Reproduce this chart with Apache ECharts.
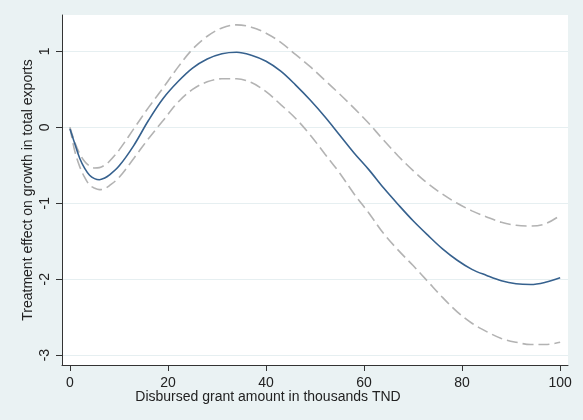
<!DOCTYPE html>
<html>
<head>
<meta charset="utf-8">
<script src="https://cdn.jsdelivr.net/npm/echarts@6/dist/echarts.min.js"></script>
<style>
    html, body { margin: 0; padding: 0; background: #eaf2f3; }
    #main { width: 583px; height: 420px; }
</style>
</head>
<body>
<div id="main"></div>
<script type="text/javascript">
    // grant amount (thousands TND) at which the curves are read
    var grant = [0, 1, 2, 3, 4, 5, 6, 7, 8, 10, 13, 16, 19, 22, 25, 28, 31, 34, 37, 40, 43, 46, 49, 52, 55, 58, 61, 64, 67, 70, 73, 76, 79, 82, 85, 88, 91, 94, 97, 100];
    // point estimate of the treatment effect
    var effect = [-0.02, -0.22, -0.41, -0.54, -0.63, -0.675, -0.69, -0.67, -0.63, -0.51, -0.24, 0.09, 0.38, 0.6, 0.78, 0.9, 0.97, 0.99, 0.95, 0.87, 0.74, 0.56, 0.36, 0.14, -0.1, -0.34, -0.56, -0.8, -1.02, -1.23, -1.42, -1.6, -1.75, -1.87, -1.95, -2.02, -2.06, -2.07, -2.04, -1.98];
    // confidence band
    var upper = [0.0, -0.2, -0.35, -0.45, -0.51, -0.535, -0.53, -0.5, -0.45, -0.3, -0.02, 0.26, 0.52, 0.79, 1.03, 1.2, 1.31, 1.35, 1.32, 1.24, 1.12, 0.96, 0.8, 0.62, 0.44, 0.25, 0.05, -0.17, -0.38, -0.57, -0.74, -0.88, -1.0, -1.1, -1.18, -1.25, -1.29, -1.3, -1.27, -1.16];
    var lower = [0.0, -0.32, -0.52, -0.66, -0.76, -0.8, -0.82, -0.81, -0.77, -0.66, -0.41, -0.15, 0.09, 0.33, 0.5, 0.6, 0.64, 0.64, 0.59, 0.47, 0.3, 0.12, -0.1, -0.35, -0.6, -0.88, -1.13, -1.4, -1.62, -1.82, -2.03, -2.24, -2.43, -2.58, -2.69, -2.78, -2.83, -2.86, -2.86, -2.83];

    var xTicks = [0, 20, 40, 60, 80, 100];
    var yTicks = [-3, -2, -1, 0, 1];

    function pairs(xs, ys) {
        var out = [];
        for (var i = 0; i < xs.length; i++) {
            out.push([xs[i], ys[i]]);
        }
        return out;
    }

    var font = 'Liberation Sans, Arial, sans-serif';
    var myChart = echarts.init(document.getElementById('main'));
    var option = {
        backgroundColor: '#eaf2f3',
        animation: false,
        grid: {
            left: 62,
            right: 15,
            top: 15,
            bottom: 55,
            show: true,
            backgroundColor: '#ffffff',
            borderWidth: 0
        },
        xAxis: {
            type: 'value',
            min: -1.63,
            max: 101.6,
            name: 'Disbursed grant amount in thousands TND',
            nameLocation: 'middle',
            nameMoveOverlap: false,
            nameGap: 25,
            nameTextStyle: { fontFamily: font, fontSize: 14, color: '#222', padding: [0, 94, 0, 0] },
            axisLine: { onZero: false, lineStyle: { color: '#333', width: 1 } },
            axisTick: { length: 6, customValues: xTicks, lineStyle: { color: '#333' } },
            axisLabel: { customValues: xTicks, margin: 11, fontFamily: font, fontSize: 14, color: '#222' },
            splitLine: { show: false }
        },
        yAxis: {
            type: 'value',
            min: -3.13,
            max: 1.48,
            name: 'Treatment effect on growth in total exports',
            nameLocation: 'middle',
            nameMoveOverlap: false,
            nameGap: 27,
            nameTextStyle: { fontFamily: font, fontSize: 14, color: '#222' },
            axisLine: { show: true, onZero: false, lineStyle: { color: '#333', width: 1 } },
            axisTick: { show: true, length: 6, customValues: yTicks, lineStyle: { color: '#333' } },
            axisLabel: { customValues: yTicks, rotate: 90, margin: 10, fontFamily: font, fontSize: 14, color: '#222' },
            splitLine: { show: true, lineStyle: { color: '#e6eff1', width: 1 } }
        },
        series: [
            {
                type: 'line',
                data: pairs(grant, upper),
                smooth: 0.35,
                showSymbol: false,
                lineStyle: { color: '#b3b3b3', width: 1.6, type: [11, 5] }
            },
            {
                type: 'line',
                data: pairs(grant, lower),
                smooth: 0.35,
                showSymbol: false,
                lineStyle: { color: '#b3b3b3', width: 1.6, type: [11, 5] }
            },
            {
                type: 'line',
                data: pairs(grant, effect),
                smooth: 0.35,
                showSymbol: false,
                lineStyle: { color: '#36618e', width: 1.6 }
            }
        ]
    };
    myChart.setOption(option);
</script>
</body>
</html>
